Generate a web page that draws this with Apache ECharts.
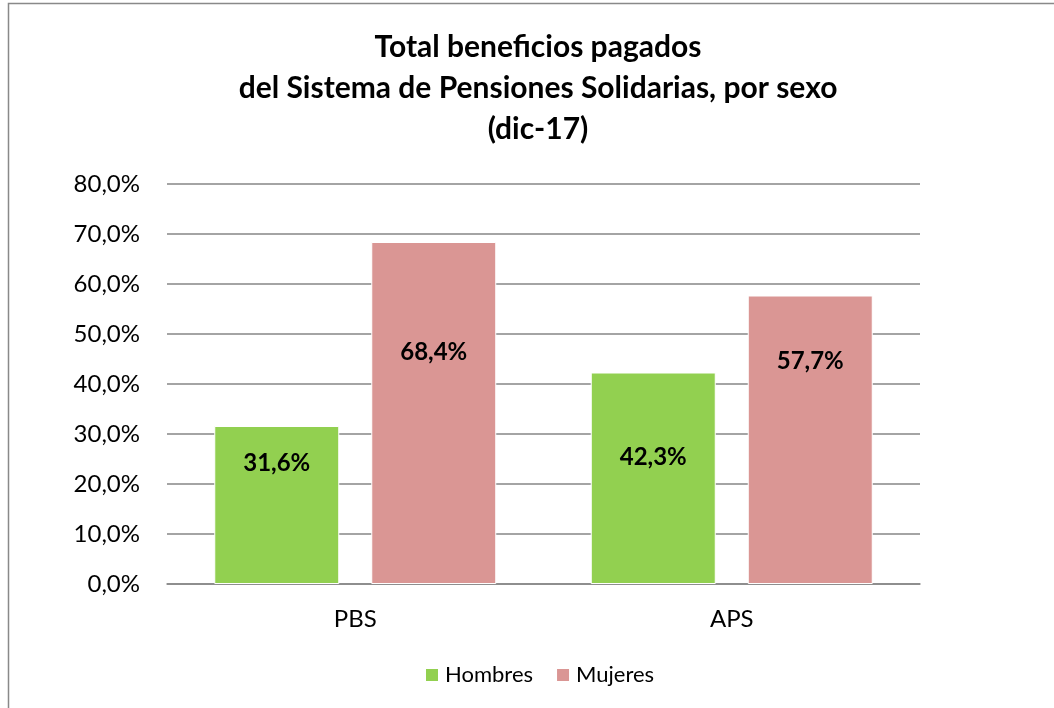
<!DOCTYPE html>
<html>
<head>
<meta charset="utf-8">
<script src="https://cdn.jsdelivr.net/npm/echarts@6/dist/echarts.min.js"></script>
<style>html,body{margin:0;padding:0;background:#fff}#c{width:1054px;height:708px}</style>
</head>
<body>
<div id="c"></div>
<script>
var categories = ['PBS', 'APS'];
var hombres = [31.6, 42.3];
var mujeres = [68.4, 57.7];
var yTicks = [0, 10, 20, 30, 40, 50, 60, 70, 80];

var FONT = 'Lato';
var chart = echarts.init(document.getElementById('c'), null, {renderer: 'canvas'});
function fmt(v) { return v.toFixed(1).replace('.', ',') + '%'; }
var hOff = [-42, -21];
var mOff = [-61, -78];
function mk(vals, offs) {
  return vals.map(function (v, i) { return {value: v, label: {offset: [0, offs[i]]}}; });
}
var labelStyle = {
  show: true, position: 'inside', fontFamily: FONT, fontWeight: 'bold', fontSize: 24, color: '#000',
  formatter: function (p) { return fmt(p.value); }
};
chart.setOption({
  animation: false,
  backgroundColor: '#fff',
  graphic: [{
    type: 'rect', shape: {x: 8.5, y: 3.5, width: 1100, height: 800},
    style: {fill: 'none', stroke: '#898989', lineWidth: 1.5}, silent: true
  }],
  title: {
    text: 'Total beneficios pagados\ndel Sistema de Pensiones Solidarias, por sexo\n(dic-17)',
    left: 533, textAlign: 'center', top: 22,
    textStyle: {fontFamily: FONT, fontWeight: 'bold', fontSize: 30, lineHeight: 41, color: '#000'}
  },
  legend: {
    data: ['Hombres', 'Mujeres'], left: 419, top: 659, itemWidth: 14, itemHeight: 14, itemGap: 22,
    icon: 'rect',
    textStyle: {fontFamily: FONT, fontSize: 22, color: '#000', padding: [0, 0, 0, 1]}
  },
  grid: {left: 167, right: 134, top: 184, bottom: 124},
  xAxis: {
    type: 'category', data: categories,
    axisLine: {lineStyle: {color: '#868686', width: 1.5}},
    axisTick: {show: false},
    axisLabel: {fontFamily: FONT, fontSize: 24, color: '#000', margin: 23}
  },
  yAxis: {
    type: 'value', min: 0, max: 80, interval: 10,
    axisLine: {show: false}, axisTick: {show: false},
    splitLine: {lineStyle: {color: '#868686', width: 1.5}},
    axisLabel: {fontFamily: FONT, fontSize: 24, color: '#000', margin: 27,
      formatter: function (v) { return yTicks.indexOf(v) >= 0 ? fmt(v) : ''; }}
  },
  series: [
    {name: 'Hombres', type: 'bar', data: mk(hombres, hOff), barWidth: 125, barGap: '25.6%',
      itemStyle: {color: '#92D050', borderColor: '#fff', borderWidth: 1}, label: labelStyle},
    {name: 'Mujeres', type: 'bar', data: mk(mujeres, mOff), barWidth: 125,
      itemStyle: {color: '#DA9694', borderColor: '#fff', borderWidth: 1}, label: labelStyle}
  ]
});
</script>
</body>
</html>
